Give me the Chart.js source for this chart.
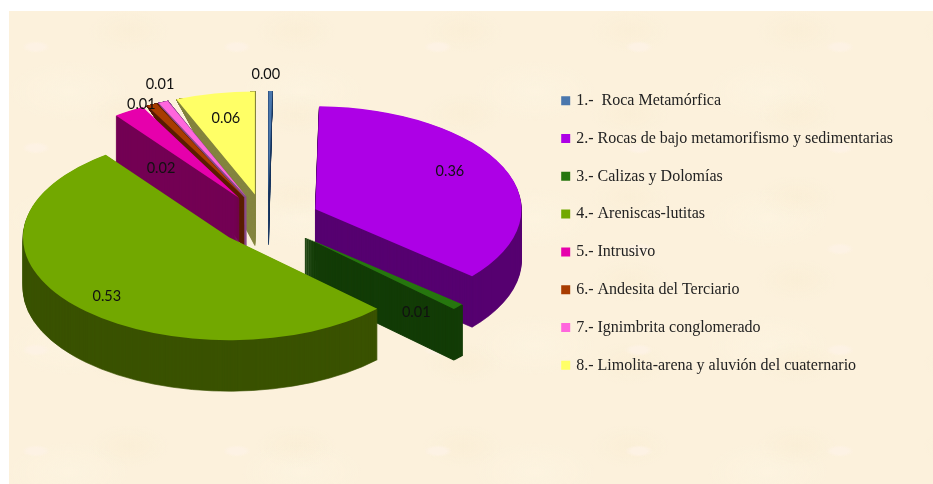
<!DOCTYPE html>
<html><head><meta charset="utf-8">
<style>
html,body{margin:0;padding:0;background:#fff;width:933px;height:484px;overflow:hidden}
#panel{position:absolute;left:9px;top:11px;width:924px;height:473px;background-color:#fcf1dc;
background-image:
 radial-gradient(ellipse 14px 6px at 27px 36px,#fdf2e4 55%,rgba(253,242,228,0) 100%),
 radial-gradient(ellipse 40px 22px at 120px 20px,rgba(247,234,205,.35),rgba(247,234,205,0)),
 radial-gradient(ellipse 60px 30px at 60px 80px,rgba(253,245,226,.6),rgba(253,245,226,0));
background-size:201px 101px,167px 83px,233px 127px}
canvas{position:absolute;left:0;top:0}
</style></head><body><div id="panel"></div><canvas id="c" width="933" height="484"></canvas>
<script src="https://cdn.jsdelivr.net/npm/chart.js@4/dist/chart.umd.min.js"></script>
<script>
const categories=["1.-  Roca Metamórfica","2.- Rocas de bajo metamorifismo y sedimentarias","3.- Calizas y Dolomías","4.- Areniscas-lutitas","5.- Intrusivo","6.- Andesita del Terciario","7.- Ignimbrita conglomerado","8.- Limolita-arena y aluvión del cuaternario"];
const values=[0.003,0.361,0.0097,0.528,0.0245,0.008,0.0075,0.0625];
const topColors=["#4a77ad","#ad00e6","#26760e","#72a800","#e600ac","#a83c00","#ff66dd","#ffff66"];
const sideColors=["#1d3a63","#560070","#133c07","#3a5200","#730054","#5a1e00","#8a4a8a","#858540"];
const drawGroups=[[0],[1],[7,6,5,4],[2],[3]];
const taperedWalls=[0,5,6,7];
const wallStroke=[0.6,1,2,1,1,1.5,1.5,1];
const sliceShift=[[0,0],[0,0],[-1,0],[0,0],[-1,0],[-1,0],[-1,0],[-3,0]];
const labelNudges=[[-4,-48],[3,-8],[3,26],[-14,11],[-2,31],[-39,-28],[-29,-46],[-4,-5]];
const view={cx:268,cy:220,rx:206,tilt:0.5,explode:52,depth:51};

const pie3d={id:'pie3d',
 beforeDatasetsDraw(chart){
  const ctx=chart.ctx,arcs=chart.getDatasetMeta(0).data;
  const s=view.rx/arcs[0].outerRadius;
  const apex=i=>{
   const arc=arcs[i],m=(arc.startAngle+arc.endAngle)/2;
   return {x:view.cx+Math.cos(m)*view.explode+sliceShift[i][0],y:view.cy+Math.sin(m)*view.explode*view.tilt+sliceShift[i][1]};
  };
  const rimPoint=(p,a)=>({x:p.x+view.rx*Math.cos(a),y:p.y+view.rx*view.tilt*Math.sin(a)});
  const paint=(i,color,dy,taper,stroke)=>{
   const arc=arcs[i],saved=arc.options,p=apex(i);
   arc.options={backgroundColor:color,borderColor:color,borderWidth:stroke,offset:0,spacing:0,borderRadius:0,circular:true,borderAlign:'center',borderJoinStyle:'round',borderDash:[],borderDashOffset:0};
   ctx.save();
   if(taper&&dy>0){
    const L=rimPoint(p,arc.startAngle),R=rimPoint(p,arc.endAngle);
    const nx=-(R.y-L.y),ny=R.x-L.x,den=nx*(p.x-L.x)+ny*(p.y-L.y);
    const kx=nx/den,ky=ny/den,g=-(kx*L.x+ky*L.y);
    const cl=Math.hypot(nx,ny),ux=(R.x-L.x)/cl,uy=(R.y-L.y)/cl,sg=den>0?1:-1,vx=sg*nx/cl,vy=sg*ny/cl,B=2000;
    ctx.beginPath();
    ctx.moveTo(L.x-ux*B,L.y-uy*B);ctx.lineTo(L.x+ux*B,L.y+uy*B);
    ctx.lineTo(L.x+ux*B+vx*B,L.y+uy*B+vy*B);ctx.lineTo(L.x-ux*B+vx*B,L.y-uy*B+vy*B);
    ctx.closePath();ctx.clip();
    ctx.transform(1,dy*kx,0,1+dy*ky,0,dy*g);
    ctx.translate(p.x,p.y);
   }else ctx.translate(p.x,p.y+dy);
   ctx.scale(s,s*view.tilt);ctx.translate(-arc.x,-arc.y);
   arc.draw(ctx);ctx.restore();
   arc.options=saved;
  };
  drawGroups.forEach(group=>{
   group.forEach(i=>{
    const taper=taperedWalls.includes(i);
    for(let d=view.depth;d>=1;d--)paint(i,sideColors[i],d,taper,wallStroke[i]);
   });
   group.forEach(i=>paint(i,topColors[i],0,false,0));
  });
  ctx.save();ctx.font='14.5px Lato';ctx.fillStyle='#111';ctx.textAlign='center';ctx.textBaseline='middle';
  arcs.forEach((arc,i)=>{
   const m=(arc.startAngle+arc.endAngle)/2;
   const x=view.cx+Math.cos(m)*(view.explode+0.7*view.rx)+labelNudges[i][0];
   const y=view.cy+Math.sin(m)*view.tilt*(view.explode+0.7*view.rx)+labelNudges[i][1];
   ctx.fillText(values[i].toFixed(2),x,y);
  });
  ctx.restore();
  return false;
 }};

new Chart(document.getElementById('c'),{type:'pie',
 data:{labels:categories,datasets:[{data:values,backgroundColor:topColors,borderWidth:0}]},
 options:{responsive:false,animation:false,
  layout:{padding:{right:30,bottom:18}},
  plugins:{tooltip:{enabled:false},title:{display:false},
   legend:{position:'right',align:'center',labels:{boxWidth:5,boxHeight:5,padding:21.8,color:'#222',font:{family:'Liberation Serif',size:16},
    generateLabels(chart){
     return Chart.overrides.pie.plugins.legend.labels.generateLabels(chart).map(it=>Object.assign(it,{strokeStyle:it.fillStyle,lineWidth:4}));
    }}}}},
 plugins:[pie3d]});
</script></body></html>
